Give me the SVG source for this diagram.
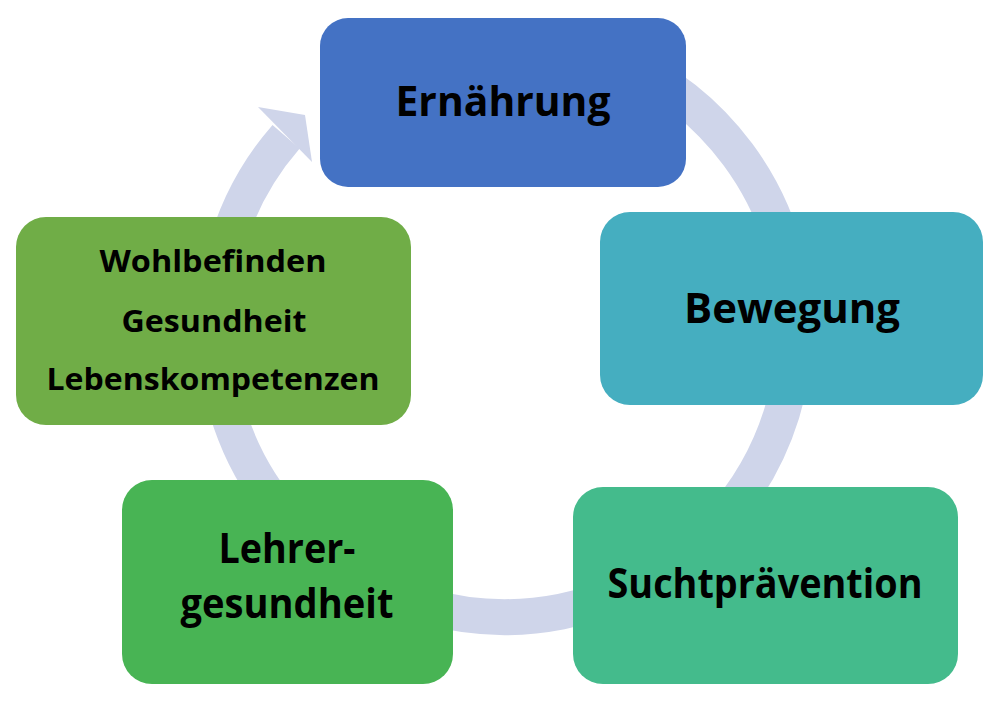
<svg xmlns="http://www.w3.org/2000/svg" width="1000" height="703" viewBox="0 0 1000 703">
<style>
.t{font-family:"Open Sans","Liberation Sans",sans-serif;font-weight:bold;fill:#000;text-anchor:middle}
.big{font-size:42px}.sm{font-size:31px}
</style>
<rect width="1000" height="703" fill="#fff"/>
<g id="connectors">
<path d="M338.7,89.4 A290,290 0 1 1 286.1,136.7" fill="none" stroke="#CFD5EA" stroke-width="36"/>
<polygon points="305,115 258,107 312,162" fill="#CFD5EA"/>
</g>
<g id="ernaehrung"><rect x="320" y="18" width="366" height="169" rx="28" fill="#4472C4"/>
<text class="t big" x="503" y="116" textLength="215" lengthAdjust="spacingAndGlyphs">Ernährung</text></g>
<g id="bewegung"><rect x="600" y="212" width="383" height="193" rx="30" fill="#45AEC0"/>
<text class="t big" x="792" y="323" textLength="216" lengthAdjust="spacingAndGlyphs">Bewegung</text></g>
<g id="sucht"><rect x="573" y="487" width="385" height="197" rx="30" fill="#44BB8C"/>
<text class="t big" x="765" y="598" textLength="315" lengthAdjust="spacingAndGlyphs">Suchtprävention</text></g>
<g id="lehrer"><rect x="122" y="480" width="331" height="204" rx="30" fill="#48B454"/>
<text class="t big" x="287" y="563" textLength="137" lengthAdjust="spacingAndGlyphs">Lehrer-</text>
<text class="t big" x="287" y="618" textLength="213" lengthAdjust="spacingAndGlyphs">gesundheit</text></g>
<g id="wohl"><rect x="16" y="217" width="395" height="208" rx="30" fill="#70AD47"/>
<text class="t sm" x="213" y="272" textLength="227" lengthAdjust="spacingAndGlyphs">Wohlbefinden</text>
<text class="t sm" x="214" y="332" textLength="185" lengthAdjust="spacingAndGlyphs">Gesundheit</text>
<text class="t sm" x="213" y="390" textLength="333" lengthAdjust="spacingAndGlyphs">Lebenskompetenzen</text></g>
</svg>
